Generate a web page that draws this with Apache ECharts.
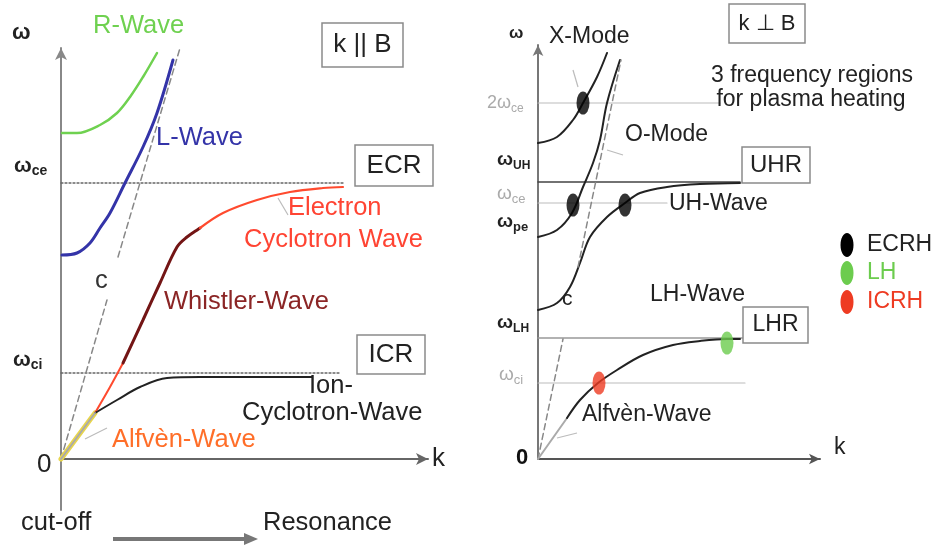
<!DOCTYPE html>
<html>
<head>
<meta charset="utf-8">
<script src="https://cdn.jsdelivr.net/npm/echarts@6/dist/echarts.min.js"></script>
<style>
html,body{margin:0;padding:0;background:#fff;}
#chart{width:935px;height:548px;}
</style>
</head>
<body>
<div id="chart"></div>
<script>
// ---------- Data (arbitrary schematic units: k horizontally, omega vertically) ----------
// Left panel: k || B
const rWave        = [[1,326],[16,326],[39,334],[56,346],[69,362],[82,382],[96,406]];
const lWave        = [[1,204],[16,206],[29,216],[39,231],[49,246],[64,276],[82,312],[96,346],[112,399]];
const lightCLow    = [[0,0],[46,159]];
const lightCHigh   = [[57,202],[119,411]];
const alfvenLeft   = [[0,0],[34,46]];
const ecwLow       = [[34,46],[49,72],[62,96]];
const whistler     = [[62,96],[82,139],[99,176],[116,212],[126,222],[139,231]];
const ecwHigh      = [[139,231],[162,246],[196,259],[229,267],[262,271],[282,272]];
const ionCyclotron = [[34,46],[56,59],[79,72],[106,81],[139,82],[251,82]];
const omegaCeLeft  = [[0,276],[284,276]];
const omegaCiLeft  = [[0,86],[280,86]];

// Right panel: k perpendicular B
const xModeUpper   = [[0,316],[19,322],[35,339],[45,356],[59,382],[69,406]];
const oMode        = [[0,222],[19,229],[34,246],[45,272],[55,296],[62,319],[69,356],[82,399]];
const uhWave       = [[0,149],[19,156],[32,172],[42,196],[52,222],[69,242],[87,256],[102,266],[129,272],[162,275],[202,276]];
const lightCRLow   = [[0,0],[25,120]];
const lightCRHigh  = [[40,192],[83,399]];
const alfvenRight  = [[0,0],[29,41]];
const lhWave       = [[29,41],[42,59],[60,76],[79,89],[105,104],[135,114],[162,118],[189,120],[202,120]];
const twoOmegaCe   = [[0,356],[182,356]];
const omegaUH      = [[0,277],[202,277]];
const omegaCeRight = [[0,256],[129,256]];
const omegaLH      = [[0,121],[205,121]];
const omegaCiRight = [[0,76],[207,76]];

const ecrhPoints   = [[45,356],[35,254],[87,254]];
const lhPoints     = [[189,116]];
const icrhPoints   = [[61,76]];

// ---------- Chart ----------
const FONT = '"Liberation Sans", Arial, sans-serif';
const chart = echarts.init(document.getElementById('chart'), null, {renderer:'canvas'});

function line(data, color, width, opts) {
  opts = opts || {};
  return {
    type:'line', data:data, showSymbol:false, symbol:'none',
    smooth: opts.smooth === undefined ? 0.35 : opts.smooth,
    xAxisIndex: opts.grid || 0, yAxisIndex: opts.grid || 0,
    lineStyle:{color:color, width:width, type: opts.dash || 'solid', cap:'round'},
    silent:true, z: opts.z || 3
  };
}
function refLine(data, color, width, grid, dash) {
  return line(data, color, width, {grid:grid, smooth:false, dash:dash || [2,2], z:1});
}
function dots(data, color, grid) {
  return {type:'scatter', data:data, xAxisIndex:grid, yAxisIndex:grid, symbol:'circle',
    symbolSize:[13,23], itemStyle:{color:color}, silent:true, z:5};
}

const axisCommon = {
  axisTick:{show:false}, axisLabel:{show:false}, splitLine:{show:false}
};

const series = [
  refLine(omegaCeLeft, '#666', 1.3, 0),
  refLine(omegaCiLeft, '#666', 1.3, 0),
  line(rWave, '#6fd150', 2.5),
  line(lWave, '#3434a8', 3),
  line(lightCLow, '#888', 1.5, {smooth:false, dash:[6,4]}),
  line(lightCHigh, '#888', 1.5, {smooth:false, dash:[6,4]}),
  line(alfvenLeft, '#e8d54c', 5, {smooth:false}),
  line(alfvenLeft, '#aaaaaa', 2, {smooth:false, z:4}),
  line(ecwLow, '#ff4a2e', 2),
  line(whistler, '#731515', 3),
  line(ecwHigh, '#ff4a2e', 2.2),
  line(ionCyclotron, '#222', 2),
  refLine(twoOmegaCe, '#bbb', 1.2, 1, 'solid'),
  refLine(omegaUH, '#444', 1.5, 1, 'solid'),
  refLine(omegaCeRight, '#bbb', 1.2, 1, 'solid'),
  refLine(omegaLH, '#999', 1.3, 1, 'solid'),
  refLine(omegaCiRight, '#bbb', 1.2, 1, 'solid'),
  line(xModeUpper, '#222', 2, {grid:1}),
  line(oMode, '#222', 2, {grid:1}),
  line(uhWave, '#222', 2, {grid:1}),
  line(lightCRLow, '#888', 1.5, {grid:1, smooth:false, dash:[6,4]}),
  line(lightCRHigh, '#888', 1.5, {grid:1, smooth:false, dash:[6,4]}),
  line(alfvenRight, '#aaa', 2, {grid:1, smooth:false}),
  line(lhWave, '#222', 2, {grid:1}),
  dots(ecrhPoints, '#000', 1),
  dots(lhPoints, '#6ccc4e', 1),
  dots(icrhPoints, '#ee3b22', 1)
];

function txt(x, y, text, color, size, opt) {
  opt = opt || {};
  return {type:'text', z:10, x:x, y:y, style:{
    x:0, y:0, text:text, fill:color,
    font: (opt.bold ? 'bold ' : '') + size + 'px ' + FONT,
    align: opt.align || 'left', verticalAlign:'middle'
  }};
}
function omegaLabel(x, y, sub, color, bold, wSize, sSize, pre) {
  const fw = bold ? 'bold' : 'normal';
  return {type:'text', z:10, x:x, y:y, style:{
    x:0, y:0, text:(pre ? '{w|' + pre + '}' : '') + '{w|ω}{s|' + sub + '}', align:'left', verticalAlign:'middle',
    rich:{
      w:{fontSize:wSize, fontFamily:FONT, fontWeight:fw, fill:color, lineHeight:24, verticalAlign:'middle'},
      s:{fontSize:sSize, fontFamily:FONT, fontWeight:fw, fill:color, lineHeight:24, verticalAlign:'bottom', padding:[8,0,0,0]}
    }
  }};
}
function box(x, y, w, h, text, size) {
  return [
    {type:'rect', z:9, shape:{x:x, y:y, width:w, height:h},
      style:{fill:'#fff', stroke:'#8a8a8a', lineWidth:1.5}},
    txt(x + w/2, y + h/2, text, '#222', size, {align:'center'})
  ];
}
function leader(x1, y1, x2, y2) {
  return {type:'line', z:8, shape:{x1:x1, y1:y1, x2:x2, y2:y2}, style:{stroke:'#bbb', lineWidth:1.2}};
}

const L = 25.5; // left panel lettering size
const R = 23;   // right panel lettering size

const graphics = [].concat(
  [txt(12, 33, 'ω', '#222', 22, {bold:true})],
  [txt(93, 26, 'R-Wave', '#6fd150', L)],
  box(322, 23, 81, 44, 'k || B', 26),
  [txt(156, 138, 'L-Wave', '#3434a8', L)],
  [omegaLabel(14, 166, 'ce', '#222', true, 21, 14)],
  box(355, 145, 78, 41, 'ECR', 26),
  [leader(278, 198, 288, 215)],
  [txt(288, 208, 'Electron', '#ff4433', L)],
  [txt(244, 240, 'Cyclotron Wave', '#ff4433', L)],
  [txt(95, 281, 'c', '#333', L)],
  [txt(164, 302, 'Whistler-Wave', '#8b2525', L)],
  [omegaLabel(13, 360, 'ci', '#222', true, 21, 14)],
  box(357, 335, 68, 39, 'ICR', 26),
  [txt(309, 386, 'Ion-', '#222', L)],
  [txt(242, 413, 'Cyclotron-Wave', '#222', L)],
  [leader(85, 439, 107, 428)],
  [txt(112, 440, 'Alfvèn-Wave', '#ff6e28', L)],
  [txt(37, 465, '0', '#222', 26)],
  [txt(432, 459, 'k', '#222', 26)],
  [txt(21, 523, 'cut-off', '#222', L)],
  [txt(263, 523, 'Resonance', '#222', L)],
  [{type:'line', z:8, shape:{x1:113, y1:539, x2:246, y2:539}, style:{stroke:'#777', lineWidth:4}},
   {type:'polygon', z:8, shape:{points:[[244,533],[258,539],[244,545]]}, style:{fill:'#777'}}],
  [txt(509, 33, 'ω', '#222', 17, {bold:true})],
  [txt(549, 37, 'X-Mode', '#222', R)],
  [leader(573, 70, 578, 87)],
  box(729, 4, 76, 39, 'k ⊥ B', 22),
  [txt(812, 76, '3 frequency regions', '#222', R, {align:'center'})],
  [txt(811, 100, 'for plasma heating', '#222', R, {align:'center'})],
  [omegaLabel(487, 103, 'ce', '#aaa', false, 18, 12, '2')],
  [txt(625, 135, 'O-Mode', '#222', R)],
  [leader(607, 150, 623, 155)],
  [omegaLabel(497, 160, 'UH', '#222', true, 19, 12)],
  box(742, 147, 68, 36, 'UHR', 24),
  [omegaLabel(497, 194, 'ce', '#aaa', false, 19, 13)],
  [txt(669, 204, 'UH-Wave', '#222', R)],
  [omegaLabel(497, 222, 'pe', '#222', true, 19, 13)],
  [txt(562, 299, 'c', '#222', 21)],
  [txt(650, 295, 'LH-Wave', '#222', R)],
  [omegaLabel(497, 323, 'LH', '#222', true, 19, 12)],
  box(743, 307, 65, 36, 'LHR', 23),
  [omegaLabel(499, 375, 'ci', '#aaa', false, 19, 13)],
  [leader(557, 438, 577, 433)],
  [txt(582, 415, 'Alfvèn-Wave', '#222', R)],
  [txt(516, 458, '0', '#111', 22, {bold:true})],
  [txt(834, 448, 'k', '#222', 23)],
  [{type:'ellipse', z:10, shape:{cx:847, cy:245, rx:6.5, ry:12}, style:{fill:'#000'}},
   txt(867, 245, 'ECRH', '#222', R),
   {type:'ellipse', z:10, shape:{cx:847, cy:273, rx:6.5, ry:12}, style:{fill:'#6ccc4e'}},
   txt(867, 273, 'LH', '#6ccc4e', R),
   {type:'ellipse', z:10, shape:{cx:847, cy:302, rx:6.5, ry:12}, style:{fill:'#ee3b22'}},
   txt(867, 302, 'ICRH', '#ee3b22', R)]
);

chart.setOption({
  animation:false,
  backgroundColor:'#fff',
  grid:[
    {left:61, top:48, width:367, height:462, containLabel:false},
    {left:538, top:45, width:282, height:414, containLabel:false}
  ],
  xAxis:[
    Object.assign({type:'value', gridIndex:0, min:0, max:367,
      axisLine:{show:true, onZero:true, symbol:['none','arrow'], symbolSize:[9,12], lineStyle:{color:'#666', width:2}}}, axisCommon),
    Object.assign({type:'value', gridIndex:1, min:0, max:282,
      axisLine:{show:true, onZero:true, symbol:['none','arrow'], symbolSize:[8,11], lineStyle:{color:'#555', width:2}}}, axisCommon)
  ],
  yAxis:[
    Object.assign({type:'value', gridIndex:0, min:-51, max:411,
      axisLine:{show:true, onZero:true, symbol:['none','arrow'], symbolSize:[9,12], lineStyle:{color:'#888', width:2}}}, axisCommon),
    Object.assign({type:'value', gridIndex:1, min:0, max:414,
      axisLine:{show:true, onZero:true, symbol:['none','arrow'], symbolSize:[8,11], lineStyle:{color:'#777', width:2}}}, axisCommon)
  ],
  series:series,
  graphic:graphics
});
</script>
</body>
</html>
